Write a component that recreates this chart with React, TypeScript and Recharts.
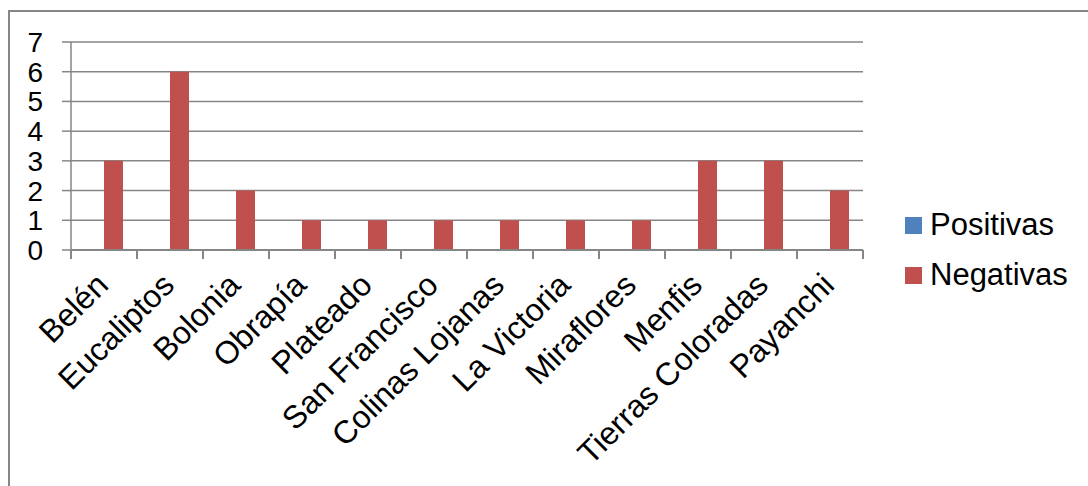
import { Bar, BarChart, CartesianGrid, Legend, XAxis, YAxis } from 'recharts'

const categories = [
  'Belén',
  'Eucaliptos',
  'Bolonia',
  'Obrapía',
  'Plateado',
  'San Francisco',
  'Colinas Lojanas',
  'La Victoria',
  'Miraflores',
  'Menfis',
  'Tierras Coloradas',
  'Payanchi',
]
const positivas = [0, 0, 0, 0, 0, 0, 0, 0, 0, 0, 0, 0]
const negativas = [3, 6, 2, 1, 1, 1, 1, 1, 1, 3, 3, 2]
const yTicks = [0, 1, 2, 3, 4, 5, 6, 7]

const data = categories.map((name, i) => ({
  name,
  Positivas: positivas[i],
  Negativas: negativas[i],
}))

const FONT = '"Liberation Sans", Arial, sans-serif'
const GRAY = '#868686'
const BLUE = '#4F81BD'
const RED = '#C0504D'

// label rotated -45deg, plus tick marks on the category boundaries
const CategoryTick = ({ x, y, payload, index, width, visibleTicksCount }: any) => {
  const half = width / visibleTicksCount / 2
  const ax = x + 6
  const ay = y + 37
  return (
    <g>
      <line x1={x - half} x2={x - half} y1={y} y2={y + 9} stroke={GRAY} strokeWidth={2} />
      {index === visibleTicksCount - 1 && (
        <line x1={x + half} x2={x + half} y1={y} y2={y + 9} stroke={GRAY} strokeWidth={2} />
      )}
      <text
        x={ax}
        y={ay}
        transform={`rotate(-45, ${ax}, ${ay})`}
        textAnchor="end"
        fontSize={32}
        fontFamily={FONT}
        fill="#000"
      >
        {payload.value}
      </text>
    </g>
  )
}

const LegendBox = () => (
  <div style={{ fontFamily: FONT, fontSize: 31, color: '#000' }}>
    {[
      { label: 'Positivas', color: BLUE },
      { label: 'Negativas', color: RED },
    ].map(item => (
      <div key={item.label} style={{ display: 'flex', alignItems: 'center', height: 50 }}>
        <span style={{ width: 17, height: 17, background: item.color, marginRight: 8, display: 'inline-block' }} />
        <span>{item.label}</span>
      </div>
    ))}
  </div>
)

export default function App() {
  return (
    <div style={{ position: 'absolute', left: 0, top: 0, width: 1088, height: 486, overflow: 'hidden', background: '#fff' }}>
      <div
        style={{
          position: 'absolute',
          left: 8,
          top: 10,
          width: 1200,
          height: 600,
          borderLeft: `2px solid ${GRAY}`,
          borderTop: `2px solid ${GRAY}`,
        }}
      />
      <div style={{ position: 'absolute', left: 0, top: 0 }}>
        <BarChart
          width={1088}
          height={486}
          data={data}
          margin={{ top: 42, right: 55, left: 0, bottom: 0 }}
          barSize={19}
          barGap={0}
        >
          <CartesianGrid vertical={false} stroke={GRAY} strokeWidth={1.5} />
          <XAxis
            dataKey="name"
            interval={0}
            height={236}
            axisLine={{ stroke: GRAY, strokeWidth: 2 }}
            tickLine={false}
            tickSize={0}
            tickMargin={0}
            tick={CategoryTick}
          />
          <YAxis
            width={71}
            domain={[0, 7]}
            ticks={yTicks}
            interval={0}
            tickSize={9}
            tickMargin={19}
            stroke={GRAY}
            axisLine={{ stroke: GRAY, strokeWidth: 1.5 }}
            tickLine={{ stroke: GRAY, strokeWidth: 1.5 }}
            tick={{ fill: '#000', fontSize: 28, fontFamily: FONT }}
          />
          <Legend
            layout="vertical"
            align="right"
            verticalAlign="middle"
            content={LegendBox}
            wrapperStyle={{ left: 905, top: 200, width: 170 }}
          />
          <Bar dataKey="Positivas" fill={BLUE} isAnimationActive={false} />
          <Bar dataKey="Negativas" fill={RED} isAnimationActive={false} />
        </BarChart>
      </div>
    </div>
  )
}
